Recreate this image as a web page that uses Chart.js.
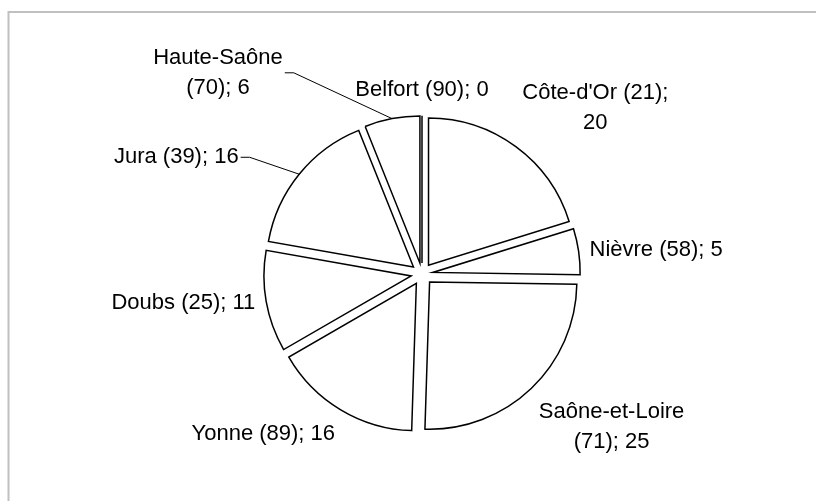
<!DOCTYPE html>
<html>
<head>
<meta charset="utf-8">
<script src="https://cdn.jsdelivr.net/npm/chart.js@4.4.1/dist/chart.umd.min.js"></script>
<style>
  html, body { margin: 0; padding: 0; background: #fff; }
  #wrap { width: 816px; height: 501px; }
</style>
</head>
<body>
<div id="wrap"><canvas id="pieChart" width="816" height="501"></canvas></div>
<script>
// data (clockwise from 12 o'clock)
const departments = ['Côte-d\'Or', 'Nièvre', 'Saône-et-Loire', 'Yonne', 'Doubs', 'Jura', 'Haute-Saône', 'Belfort'];
const codes = [21, 58, 71, 89, 25, 39, 70, 90];
const counts = [20, 5, 25, 16, 11, 16, 6, 0];

const explode = 11;          // how far each slice is pulled out
const labelFont = '22px "Liberation Sans", Arial, sans-serif';
const lineH = 30;
const wrapWidth = 155;

// labels that were pushed aside (with a leader line)
const movedLabels = {
    'Jura': [-52, 5],
    'Haute-Saône': [-172, -5]
};

function midAngle(arc) {
    return (arc.startAngle + arc.endAngle) / 2;
}

function wrapText(ctx, text) {
    const words = text.split(' ');
    const lines = [];
    let cur = '';
    words.forEach(w => {
        const test = cur ? cur + ' ' + w : w;
        if (cur && ctx.measureText(test).width > wrapWidth) {
            lines.push(cur);
            cur = w;
        } else {
            cur = test;
        }
    });
    lines.push(cur);
    return lines;
}

// grey frame like the original plot area
const framePlugin = {
    id: 'frame',
    beforeDraw(chart) {
        const ctx = chart.ctx;
        ctx.save();
        ctx.strokeStyle = '#c0c0c0';
        ctx.lineWidth = 2;
        ctx.strokeRect(8.5, 12, 900, 600);
        ctx.restore();
    }
};

// draw every arc shifted outwards along its bisector
const explodePlugin = {
    id: 'explode',
    beforeDatasetDraw(chart, args) {
        const ctx = chart.ctx;
        args.meta.data.forEach(arc => {
            const mid = midAngle(arc);
            ctx.save();
            ctx.translate(Math.cos(mid) * explode, Math.sin(mid) * explode);
            if (arc.circumference === 0) {
                // empty slice still shows its edge
                ctx.strokeStyle = arc.options.borderColor;
                ctx.lineWidth = arc.options.borderWidth;
                ctx.beginPath();
                ctx.moveTo(arc.x, arc.y);
                ctx.lineTo(arc.x + Math.cos(arc.startAngle) * arc.outerRadius,
                           arc.y + Math.sin(arc.startAngle) * arc.outerRadius);
                ctx.stroke();
            } else {
                arc.draw(ctx);
            }
            ctx.restore();
        });
        return false;
    }
};

const labelPlugin = {
    id: 'sliceLabels',
    afterDatasetsDraw(chart) {
        const ctx = chart.ctx;
        const meta = chart.getDatasetMeta(0);
        ctx.save();
        ctx.font = labelFont;
        ctx.fillStyle = '#000';
        ctx.textBaseline = 'middle';
        ctx.textAlign = 'center';
        meta.data.forEach((arc, i) => {
            const mid = midAngle(arc);
            const c = Math.cos(mid), s = Math.sin(mid);
            const d = arc.outerRadius + explode + 11;
            const ax = arc.x + c * d, ay = arc.y + s * d;
            const text = departments[i] + ' (' + codes[i] + '); ' + counts[i];
            const lines = wrapText(ctx, text);
            const W = Math.max(...lines.map(l => ctx.measureText(l).width));
            const H = lines.length * lineH;
            let left = c > 0.25 ? ax : (c < -0.25 ? ax - W : ax - W / 2);
            let top = s < -0.5 ? ay - H : (s > 0.5 ? ay : ay - H / 2);
            const moved = movedLabels[departments[i]];
            if (moved) {
                left += moved[0];
                top += moved[1];
                // leader line back to the slice
                const sx = left + W + 2, sy = top + H / 2;
                const ex = arc.x + c * explode + c * arc.outerRadius;
                const ey = arc.y + s * explode + s * arc.outerRadius;
                ctx.strokeStyle = '#000';
                ctx.lineWidth = 1;
                ctx.beginPath();
                ctx.moveTo(sx, sy);
                ctx.lineTo(sx + 9, sy);
                ctx.lineTo(ex, ey);
                ctx.stroke();
            }
            lines.forEach((l, k) => {
                ctx.fillText(l, left + W / 2, top + lineH / 2 + k * lineH);
            });
        });
        ctx.restore();
    }
};

const ctx = document.getElementById('pieChart').getContext('2d');

new Chart(ctx, {
    type: 'pie',
    data: {
        labels: departments,
        datasets: [{
            data: counts,
            backgroundColor: '#ffffff',
            borderColor: '#000000',
            borderWidth: 1.5,
            borderJoinStyle: 'miter'
        }]
    },
    options: {
        responsive: false,
        animation: false,
        layout: { padding: { top: 126, bottom: 79, left: 222, right: 194 } },
        plugins: {
            legend: { display: false },
            tooltip: { enabled: false }
        }
    },
    plugins: [framePlugin, explodePlugin, labelPlugin]
});
</script>
</body>
</html>
